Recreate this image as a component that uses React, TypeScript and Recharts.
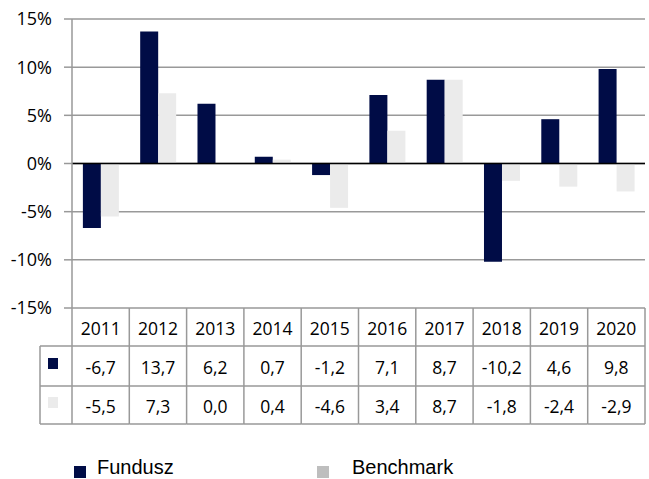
import { BarChart, Bar, XAxis, YAxis, CartesianGrid, ReferenceLine, Legend } from "recharts";

const years = ["2011", "2012", "2013", "2014", "2015", "2016", "2017", "2018", "2019", "2020"];
const fundusz = [-6.7, 13.7, 6.2, 0.7, -1.2, 7.1, 8.7, -10.2, 4.6, 9.8];
const benchmark = [-5.5, 7.3, 0.0, 0.4, -4.6, 3.4, 8.7, -1.8, -2.4, -2.9];
const yTicks = [-15, -10, -5, 0, 5, 10, 15];

const NAVY = "#000C46";
const LIGHT = "#EBEBEB";
const LINE = "#999999";

const series = [
  { key: "fundusz", name: "Fundusz", color: NAVY, legendColor: NAVY, values: fundusz },
  { key: "benchmark", name: "Benchmark", color: LIGHT, legendColor: "#BEBEBE", values: benchmark },
];

const data = years.map((year, i) => ({
  year,
  fundusz: fundusz[i],
  benchmark: benchmark[i],
}));

const fmt = (v: number) => v.toFixed(1).replace(".", ",");

// table rows under the plot
const TOP = 308;
const ROW1 = 346;
const ROW2 = 386;
const ROW3 = 424;
const KEY_LEFT = 40;
const tableFont = { fontFamily: "Open Sans", fontSize: 17.5, fill: "#000" };

function TableTick(props: any) {
  const { x, payload, index } = props;
  const half = payload?.offset || 28.65;
  const x0 = x - half;
  const x1 = x + half;
  const last = index === years.length - 1;
  const rows = [ROW1, ROW2, ROW3];
  return (
    <g>
      <line x1={x0} y1={TOP} x2={x0} y2={ROW3} stroke={LINE} strokeWidth={1.5} />
      {last && <line x1={x1} y1={TOP} x2={x1} y2={ROW3} stroke={LINE} strokeWidth={1.5} />}
      {rows.map((r) => (
        <line key={r} x1={x0} y1={r} x2={x1} y2={r} stroke={LINE} strokeWidth={1.5} />
      ))}
      <text x={x} y={(TOP + ROW1) / 2 + 1} textAnchor="middle" dominantBaseline="central" {...tableFont}>
        {payload.value}
      </text>
      {series.map((s, si) => (
        <text
          key={s.key}
          x={x}
          y={(rows[si] + rows[si + 1]) / 2 + 1}
          textAnchor="middle"
          dominantBaseline="central"
          {...tableFont}
        >
          {fmt(s.values[index])}
        </text>
      ))}
      {index === 0 && (
        <g>
          <line x1={KEY_LEFT} y1={ROW1} x2={KEY_LEFT} y2={ROW3} stroke={LINE} strokeWidth={1.5} />
          {rows.map((r) => (
            <line key={r} x1={KEY_LEFT} y1={r} x2={x0} y2={r} stroke={LINE} strokeWidth={1.5} />
          ))}
          {series.map((s, si) => (
            <rect key={s.key} x={48} y={(rows[si] + rows[si + 1]) / 2 - 8} width={10} height={11} fill={s.color} />
          ))}
        </g>
      )}
    </g>
  );
}

function LegendContent() {
  const pos = [
    { marker: 74, text: 97 },
    { marker: 317, text: 352 },
  ];
  return (
    <div style={{ position: "relative", height: 51, width: 649 }}>
      {series.map((s, i) => (
        <div key={s.key}>
          <div
            style={{
              position: "absolute",
              left: pos[i].marker,
              top: 38,
              width: 12,
              height: 12,
              background: s.legendColor,
            }}
          />
          <div
            style={{
              position: "absolute",
              left: pos[i].text,
              top: 28,
              fontFamily: "Liberation Sans",
              fontSize: 20,
              lineHeight: "23px",
              color: "#000",
              whiteSpace: "nowrap",
            }}
          >
            {s.name}
          </div>
        </div>
      ))}
    </div>
  );
}

export default function App() {
  return (
    <div style={{ position: "absolute", left: 0, top: 0, background: "#fff" }}>
      <BarChart
        width={649}
        height={479}
        data={data}
        margin={{ top: 19, right: 4, left: 0, bottom: 0 }}
        barCategoryGap="19%"
        barGap={0}
      >
        <CartesianGrid vertical={false} stroke={LINE} strokeWidth={1.5} />
        <YAxis
          width={72}
          domain={[-15, 15]}
          ticks={yTicks}
          interval={0}
          tickFormatter={(v: number) => `${v}%`}
          tick={{ fontFamily: "Open Sans", fontSize: 18, fill: "#000" }}
          axisLine={{ stroke: LINE, strokeWidth: 1.5 }}
          tickLine={{ stroke: LINE, strokeWidth: 1.5 }}
          tickSize={8}
          tickMargin={12}
        />
        <XAxis
          dataKey="year"
          height={120}
          interval={0}
          axisLine={false}
          tickLine={false}
          tickSize={0}
          tickMargin={0}
          tick={(p: any) => <TableTick {...p} />}
        />
        <ReferenceLine y={0} stroke="#000" strokeWidth={1.5} />
        {series.map((s) => (
          <Bar key={s.key} dataKey={s.key} name={s.name} fill={s.color} isAnimationActive={false} />
        ))}
        <Legend verticalAlign="bottom" height={51} content={() => <LegendContent />} />
      </BarChart>
    </div>
  );
}
